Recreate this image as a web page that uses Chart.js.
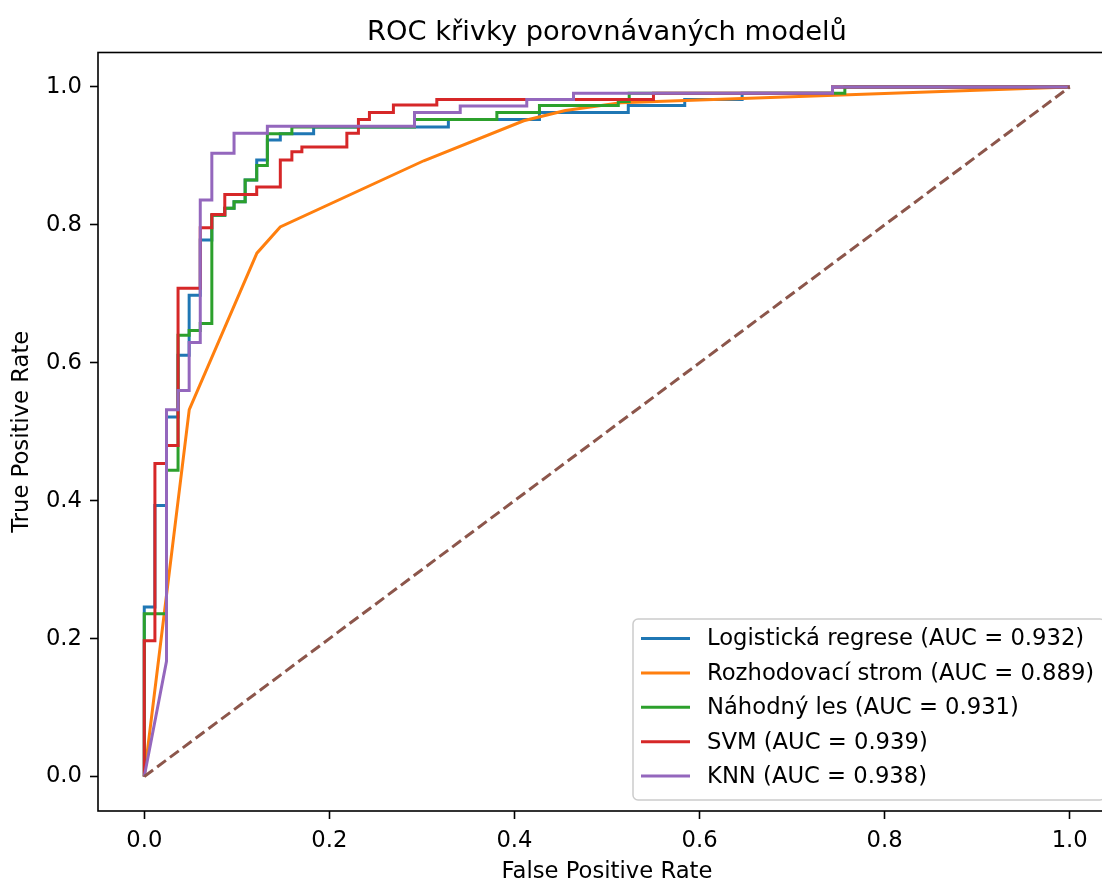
<!DOCTYPE html>
<html>
<head>
<meta charset="utf-8">
<script src="https://cdn.jsdelivr.net/npm/chart.js@4.4.1/dist/chart.umd.min.js"></script>
<style>
html, body { margin: 0; padding: 0; background: #fff; overflow: hidden; }
</style>
</head>
<body>
<canvas id="roc" width="1130" height="880"></canvas>
<script>
const TITLE = 'ROC křivky porovnávaných modelů';
const X_LABEL = 'False Positive Rate';
const Y_LABEL = 'True Positive Rate';
const X_TICKS = [0, 0.2, 0.4, 0.6, 0.8, 1.0];
const Y_TICKS = [0, 0.2, 0.4, 0.6, 0.8, 1.0];

const seriesNames = [
    'Logistická regrese (AUC = 0.932)',
    'Rozhodovací strom (AUC = 0.889)',
    'Náhodný les (AUC = 0.931)',
    'SVM (AUC = 0.939)',
    'KNN (AUC = 0.938)'
];
const seriesColors = ['#1f77b4', '#ff7f0e', '#2ca02c', '#d62728', '#9467bd'];

// corner by corner
const lrFpr = [0, 0, 0.0115, 0.0115, 0.024, 0.024, 0.0365, 0.0365, 0.0485, 0.0485, 0.0605, 0.0605, 0.073, 0.073, 0.087, 0.087, 0.097, 0.097, 0.109, 0.109, 0.1215, 0.1215, 0.133, 0.133, 0.147, 0.147, 0.183, 0.183, 0.3286, 0.3286, 0.427, 0.427, 0.523, 0.523, 0.584, 0.584, 0.646, 0.646, 0.7437, 0.7437, 1];
const lrTpr = [0, 0.2457, 0.2457, 0.393, 0.393, 0.5215, 0.5215, 0.611, 0.611, 0.698, 0.698, 0.778, 0.778, 0.814, 0.814, 0.824, 0.824, 0.8335, 0.8335, 0.865, 0.865, 0.894, 0.894, 0.923, 0.923, 0.932, 0.932, 0.942, 0.942, 0.953, 0.953, 0.963, 0.963, 0.973, 0.973, 0.982, 0.982, 0.991, 0.991, 1, 1];

const dtFpr = [0, 0.0486, 0.1217, 0.1469, 0.302, 0.41, 0.455, 0.515, 1];
const dtTpr = [0, 0.532, 0.759, 0.797, 0.893, 0.951, 0.966, 0.977, 1];

const rfFpr = [0, 0, 0.024, 0.024, 0.0365, 0.0365, 0.0485, 0.0485, 0.0605, 0.0605, 0.073, 0.073, 0.087, 0.087, 0.097, 0.097, 0.109, 0.109, 0.1215, 0.1215, 0.133, 0.133, 0.1595, 0.1595, 0.292, 0.292, 0.381, 0.381, 0.427, 0.427, 0.5122, 0.5122, 0.524, 0.524, 0.757, 0.757, 1];
const rfTpr = [0, 0.236, 0.236, 0.444, 0.444, 0.640, 0.640, 0.647, 0.647, 0.657, 0.657, 0.814, 0.814, 0.824, 0.824, 0.8335, 0.8335, 0.865, 0.865, 0.886, 0.886, 0.932, 0.932, 0.942, 0.942, 0.953, 0.953, 0.963, 0.963, 0.973, 0.973, 0.979, 0.979, 0.991, 0.991, 1, 1];

const svmFpr = [0, 0, 0.0115, 0.0115, 0.024, 0.024, 0.0365, 0.0365, 0.0605, 0.0605, 0.073, 0.073, 0.087, 0.087, 0.1215, 0.1215, 0.147, 0.147, 0.1595, 0.1595, 0.1703, 0.1703, 0.2189, 0.2189, 0.2314, 0.2314, 0.2433, 0.2433, 0.2692, 0.2692, 0.3161, 0.3161, 0.5502, 0.5502, 0.7437, 0.7437, 1];
const svmTpr = [0, 0.197, 0.197, 0.454, 0.454, 0.480, 0.480, 0.708, 0.708, 0.796, 0.796, 0.815, 0.815, 0.844, 0.844, 0.855, 0.855, 0.894, 0.894, 0.906, 0.906, 0.913, 0.913, 0.933, 0.933, 0.953, 0.953, 0.963, 0.963, 0.974, 0.974, 0.982, 0.982, 0.991, 0.991, 1, 1];

const knnFpr = [0, 0.024, 0.024, 0.0365, 0.0365, 0.0485, 0.0485, 0.0605, 0.0605, 0.073, 0.073, 0.097, 0.097, 0.133, 0.133, 0.292, 0.292, 0.3414, 0.3414, 0.4133, 0.4133, 0.4638, 0.4638, 0.7437, 0.7437, 1];
const knnTpr = [0, 0.167, 0.532, 0.532, 0.560, 0.560, 0.6295, 0.6295, 0.836, 0.836, 0.904, 0.904, 0.933, 0.933, 0.943, 0.943, 0.963, 0.963, 0.9725, 0.9725, 0.982, 0.982, 0.991, 0.991, 1, 1];

const chanceFpr = [0, 1];
const chanceTpr = [0, 1];

const FONT = '"DejaVu Sans", sans-serif';
const TEXT_SIZE = 22.7;

function toPoints(xs, ys) {
    return xs.map((x, i) => ({ x: x, y: ys[i] }));
}

const curves = [
    [lrFpr, lrTpr], [dtFpr, dtTpr], [rfFpr, rfTpr], [svmFpr, svmTpr], [knnFpr, knnTpr]
];

const datasets = curves.map((c, i) => ({
    label: seriesNames[i],
    data: toPoints(c[0], c[1]),
    borderColor: seriesColors[i],
    borderWidth: 3,
    pointRadius: 0,
    tension: 0,
    fill: false,
    order: 10 - i   // later series on top, like matplotlib
}));
datasets.push({
    label: 'chance',
    data: toPoints(chanceFpr, chanceTpr),
    borderColor: '#8c564b',
    borderWidth: 3,
    borderDash: [11, 5],
    pointRadius: 0,
    fill: false,
    order: 0
});

// axes box, title and the legend in the lower right corner
const decorations = {
    id: 'decorations',
    afterDatasetsDraw(chart) {
        const { ctx, chartArea: a } = chart;
        ctx.save();
        ctx.strokeStyle = '#000';
        ctx.lineWidth = 1.6;
        ctx.strokeRect(a.left, a.top, a.right - a.left, a.bottom - a.top);

        ctx.fillStyle = '#000';
        ctx.font = '27.3px ' + FONT;
        ctx.textAlign = 'center';
        ctx.textBaseline = 'alphabetic';
        ctx.fillText(TITLE, (a.left + a.right) / 2, 40);

        const bx = 633, by = 619, bw = 472, bh = 181;
        ctx.beginPath();
        ctx.roundRect(bx, by, bw, bh, 5);
        ctx.fillStyle = 'rgba(255,255,255,0.8)';
        ctx.fill();
        ctx.strokeStyle = '#cccccc';
        ctx.lineWidth = 1.5;
        ctx.stroke();

        ctx.font = TEXT_SIZE + 'px ' + FONT;
        ctx.textAlign = 'left';
        ctx.textBaseline = 'middle';
        seriesNames.forEach((name, i) => {
            const y = 638.5 + i * 34.4;
            ctx.strokeStyle = seriesColors[i];
            ctx.lineWidth = 3;
            ctx.beginPath();
            ctx.moveTo(641, y);
            ctx.lineTo(690, y);
            ctx.stroke();
            ctx.fillStyle = '#000';
            ctx.fillText(name, 707, y + 1);
        });
        ctx.restore();
    }
};

const axisCommon = {
    type: 'linear',
    min: -0.05,
    max: 1.05,
    grid: { display: true, drawOnChartArea: false, drawTicks: true, tickLength: 8, tickWidth: 1.6, tickColor: '#000' },
    border: { display: false },
    ticks: {
        color: '#000',
        font: { family: FONT, size: TEXT_SIZE },
        padding: 8,
        callback: (v) => Number(v).toFixed(1)
    }
};

new Chart(document.getElementById('roc').getContext('2d'), {
    type: 'line',
    data: { datasets: datasets },
    options: {
        responsive: false,
        animation: false,
        events: [],
        layout: { padding: { left: 0, right: 14, top: 52.5, bottom: 0 } },
        plugins: { legend: { display: false }, tooltip: { enabled: false } },
        scales: {
            x: Object.assign({}, axisCommon, {
                position: 'bottom',
                afterBuildTicks: (s) => { s.ticks = X_TICKS.map(v => ({ value: v })); },
                afterFit: (s) => { s.height = 69; },
                title: { display: true, text: X_LABEL, color: '#000', font: { family: FONT, size: TEXT_SIZE, lineHeight: 1 }, padding: { top: 0, bottom: -3 } }
            }),
            y: Object.assign({}, axisCommon, {
                position: 'left',
                afterBuildTicks: (s) => { s.ticks = Y_TICKS.map(v => ({ value: v })); },
                afterFit: (s) => { s.width = 98; },
                title: { display: true, text: Y_LABEL, color: '#000', font: { family: FONT, size: TEXT_SIZE, lineHeight: 1 }, padding: { top: 11, bottom: 0 } }
            })
        }
    },
    plugins: [decorations]
});
</script>
</body>
</html>
